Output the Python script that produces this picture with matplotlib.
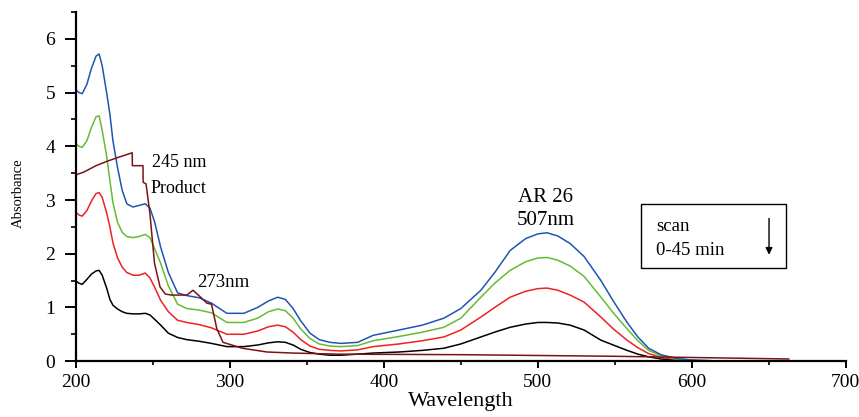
import matplotlib
matplotlib.use('Agg')
import matplotlib.pyplot as plt
from matplotlib.ticker import MultipleLocator
from matplotlib.patches import Rectangle

# Data
wl = [200, 202, 204, 207, 210, 213, 215, 217, 220, 222, 224, 227, 230, 233, 237, 241, 245, 248,
      251, 255, 260, 266, 272, 280, 288, 298, 309, 318, 325, 331, 336, 341, 346, 352, 358, 365,
      372, 383, 393, 410, 425, 439, 450, 463, 472, 482, 492, 500, 506, 513, 521, 530, 541, 549,
      558, 565, 572, 580, 590, 600, 610, 620]
scan_0 = [5.05, 5.0, 4.98, 5.15, 5.45, 5.68, 5.72, 5.5, 4.98, 4.6, 4.1, 3.6, 3.18, 2.93, 2.87, 2.9, 2.93, 2.85,
          2.6, 2.12, 1.65, 1.27, 1.22, 1.18, 1.08, 0.89, 0.89, 1.0, 1.12, 1.19, 1.15, 0.98, 0.75, 0.52, 0.4, 0.35,
          0.33, 0.35, 0.48, 0.58, 0.67, 0.8, 0.98, 1.32, 1.65, 2.06, 2.28, 2.37, 2.39, 2.33, 2.19, 1.95, 1.5, 1.12,
          0.72, 0.45, 0.24, 0.12, 0.05, 0.02, 0.01, 0.0]
scan_1 = [4.05, 4.0, 3.98, 4.1, 4.35, 4.55, 4.57, 4.3, 3.8, 3.36, 2.95, 2.58, 2.4, 2.32, 2.3, 2.32, 2.36, 2.3,
          2.1, 1.82, 1.4, 1.06, 0.98, 0.95, 0.9, 0.72, 0.72, 0.8, 0.92, 0.97, 0.94, 0.8, 0.6, 0.42, 0.32, 0.28,
          0.27, 0.29, 0.38, 0.46, 0.54, 0.63, 0.8, 1.19, 1.45, 1.69, 1.85, 1.92, 1.93, 1.88, 1.77, 1.58, 1.19, 0.9,
          0.6, 0.38, 0.2, 0.1, 0.04, 0.02, 0.01, 0.0]
scan_2 = [2.77, 2.72, 2.7, 2.8, 2.98, 3.12, 3.14, 3.05, 2.75, 2.5, 2.2, 1.92, 1.75, 1.65, 1.6, 1.6, 1.64, 1.55,
          1.38, 1.13, 0.92, 0.76, 0.72, 0.68, 0.62, 0.5, 0.5, 0.56, 0.64, 0.67, 0.64, 0.54, 0.4, 0.28, 0.22, 0.2,
          0.19, 0.21, 0.27, 0.32, 0.38, 0.45, 0.58, 0.82, 1.0, 1.19, 1.3, 1.35, 1.36, 1.32, 1.23, 1.1, 0.82, 0.6,
          0.39, 0.25, 0.14, 0.07, 0.03, 0.01, 0.0, 0.0]
scan_3 = [1.49, 1.45, 1.43, 1.52, 1.62, 1.68, 1.69, 1.6, 1.35, 1.15, 1.04, 0.97, 0.92, 0.89, 0.88, 0.88, 0.89, 0.86,
          0.78, 0.67, 0.52, 0.44, 0.4, 0.37, 0.33, 0.27, 0.27, 0.3, 0.34, 0.36, 0.35, 0.3, 0.22, 0.16, 0.13, 0.11,
          0.11, 0.13, 0.15, 0.17, 0.2, 0.24, 0.32, 0.45, 0.54, 0.63, 0.69, 0.72, 0.72, 0.71, 0.67, 0.58, 0.39, 0.3,
          0.2, 0.13, 0.08, 0.04, 0.02, 0.01, 0.0, 0.0]

prod_wl = [200, 205, 213, 220, 228, 236.5, 236.6, 243.5, 243.6, 245.5, 248, 251, 254.6, 258, 262,
           272, 276, 281, 285, 288, 291.5, 295.5, 308, 324, 341, 370, 450, 550, 663]
prod_abs = [3.47, 3.52, 3.64, 3.72, 3.8, 3.88, 3.64, 3.64, 3.33, 3.3, 2.75, 1.82, 1.38, 1.25, 1.23,
            1.23, 1.32, 1.19, 1.08, 1.06, 0.6, 0.35, 0.24, 0.17, 0.15, 0.13, 0.12, 0.09, 0.04]

plt.rcParams['font.family'] = ['Liberation Serif', 'DejaVu Serif']

fig = plt.figure(figsize=(8.59, 4.17), dpi=100)
ax = fig.add_axes([0.0885, 0.134, 0.896, 0.837])

ax.plot(wl, scan_3, color='black', linewidth=1.1)
ax.plot(wl, scan_2, color='#ee2222', linewidth=1.1)
ax.plot(wl, scan_1, color='#66bb33', linewidth=1.1)
ax.plot(wl, scan_0, color='#1f55b0', linewidth=1.1)
ax.plot(prod_wl, prod_abs, color='#7a1414', linewidth=1.1)

ax.set_xlim(200, 700)
ax.set_ylim(0, 6.5)
ax.xaxis.set_major_locator(MultipleLocator(100))
ax.xaxis.set_minor_locator(MultipleLocator(50))
ax.yaxis.set_major_locator(MultipleLocator(1))
ax.yaxis.set_minor_locator(MultipleLocator(0.5))
ax.set_yticks(range(0, 7))

for s in ['top', 'right']:
    ax.spines[s].set_visible(False)
for s in ['left', 'bottom']:
    ax.spines[s].set_linewidth(1.6)
ax.tick_params(axis='y', which='major', direction='out', length=8, width=1.4, labelsize=14, pad=7)
ax.tick_params(axis='y', which='minor', direction='out', length=3.5, width=1.2)
ax.tick_params(axis='x', which='major', direction='out', length=5, width=1.4, labelsize=14, pad=4)
ax.tick_params(axis='x', which='minor', direction='out', length=3, width=1.2)

ax.set_xlabel('Wavelength', fontsize=16, labelpad=1)
ax.set_ylabel('Absorbance', fontsize=10.5)
ax.yaxis.set_label_coords(-0.066, 0.48)

# Annotations
ax.text(249.4, 3.70, '245 nm', fontsize=13, va='center', ha='left')
ax.text(248.1, 3.22, 'Product', fontsize=13, va='center', ha='left')
ax.text(278.7, 1.47, '273nm', fontsize=13.5, va='center', ha='left')
ax.text(505, 3.05, 'AR 26', fontsize=15, va='center', ha='center')
ax.text(505, 2.62, '507nm', fontsize=15, va='center', ha='center')

ax.add_patch(Rectangle((567, 1.73), 94, 1.19, fill=False, edgecolor='black', linewidth=1.0))
ax.text(576.7, 2.51, 'scan', fontsize=13.5, va='center', ha='left')
ax.text(576.7, 2.06, '0-45 min', fontsize=13.5, va='center', ha='left')
ax.annotate('', xy=(650.2, 1.93), xytext=(650.2, 2.71),
            arrowprops=dict(arrowstyle='-|>', color='black', lw=1.0, mutation_scale=10))

plt.savefig('out.png', dpi=100)
